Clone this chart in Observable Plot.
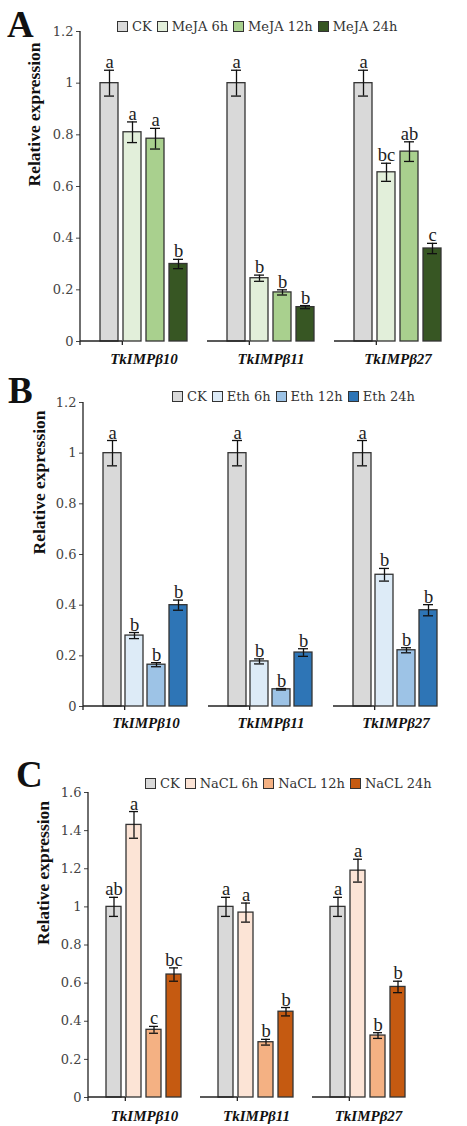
<!DOCTYPE html>
<html><head><meta charset="utf-8">
<script src="https://cdn.jsdelivr.net/npm/d3@7"></script>
<script src="https://cdn.jsdelivr.net/npm/@observablehq/plot@0.6"></script>
<style>
body{margin:0;background:#fff;}
#root{position:relative;width:467px;height:1126px;overflow:hidden;background:#fff;}
.panel{position:absolute;left:0;}
.letter{position:absolute;font-family:"Liberation Serif",serif;font-weight:bold;font-size:37px;line-height:1;color:#111;}
.legend{position:absolute;display:flex;align-items:center;height:14px;font-family:"DejaVu Serif",serif;font-size:13px;color:#333;white-space:nowrap;}
.legend .sw{width:9px;height:9px;border:1px solid #333;margin-right:4px;}
.legend .it{display:flex;align-items:center;margin-right:5px;}
</style></head>
<body><div id="root"></div>
<script>
const genes = ["TkIMPβ10", "TkIMPβ11", "TkIMPβ27"];

// Panel A: MeJA
const treatA = ["CK", "MeJA 6h", "MeJA 12h", "MeJA 24h"];
const colorsA = ["#d9d9d9", "#e2efda", "#a9d08e", "#375623"];
const meanA = [[1, 0.81, 0.785, 0.30], [1, 0.245, 0.19, 0.133], [1, 0.655, 0.735, 0.36]];
const errA = [[0.05, 0.04, 0.04, 0.018], [0.05, 0.012, 0.01, 0.006], [0.05, 0.035, 0.038, 0.02]];
const lettersA = [["a", "a", "a", "b"], ["a", "b", "b", "b"], ["a", "bc", "ab", "c"]];
const ticksA = [0, 0.2, 0.4, 0.6, 0.8, 1, 1.2];

// Panel B: Eth
const treatB = ["CK", "Eth 6h", "Eth 12h", "Eth 24h"];
const colorsB = ["#d9d9d9", "#ddebf7", "#9dc3e6", "#2e75b6"];
const meanB = [[1, 0.28, 0.165, 0.40], [1, 0.178, 0.068, 0.213], [1, 0.52, 0.222, 0.38]];
const errB = [[0.05, 0.012, 0.008, 0.02], [0.05, 0.01, 0.003, 0.015], [0.05, 0.025, 0.01, 0.022]];
const lettersB = [["a", "b", "b", "b"], ["a", "b", "b", "b"], ["a", "b", "b", "b"]];
const ticksB = [0, 0.2, 0.4, 0.6, 0.8, 1, 1.2];

// Panel C: NaCL
const treatC = ["CK", "NaCL 6h", "NaCL 12h", "NaCL 24h"];
const colorsC = ["#d9d9d9", "#fce4d6", "#f4b183", "#c55a11"];
const meanC = [[1, 1.43, 0.355, 0.645], [1, 0.97, 0.29, 0.45], [1, 1.19, 0.325, 0.58]];
const errC = [[0.05, 0.07, 0.018, 0.035], [0.05, 0.05, 0.015, 0.022], [0.05, 0.06, 0.015, 0.03]];
const lettersC = [["ab", "a", "c", "bc"], ["a", "a", "b", "b"], ["a", "a", "b", "b"]];
const ticksC = [0, 0.2, 0.4, 0.6, 0.8, 1, 1.2, 1.4, 1.6];

const root = document.getElementById("root");

// Axis lines: drawn once per facet (facet groups are translated by Plot)
function axisLines(nCat) {
  let calls = 0;
  return (index, scales, values, dims) => {
    const {width, height, marginLeft: ml, marginRight: mr, marginTop: mt, marginBottom: mb} = dims;
    const first = calls === 0;
    calls++;
    if (calls > nCat) return null;
    const g = d3.create("svg:g").attr("stroke", "#222").attr("stroke-width", 1.3);
    const y0 = height - mb;
    const step = (width - ml - mr) / nCat;
    g.append("line").attr("x1", ml).attr("x2", ml + step).attr("y1", y0).attr("y2", y0);
    g.append("line").attr("x1", ml + step).attr("x2", ml + step).attr("y1", y0).attr("y2", y0 + 4);
    if (first) g.append("line").attr("x1", ml).attr("x2", ml).attr("y1", mt).attr("y2", y0 + 4);
    return g.node();
  };
}

function panel(cfg) {
  const rows = [];
  genes.forEach((g, gi) => cfg.treat.forEach((t, ti) => rows.push({
    gene: g, treat: t, mean: cfg.mean[gi][ti], err: cfg.err[gi][ti], letter: cfg.letters[gi][ti]
  })));
  const fmt = d => String(+d.toFixed(1));
  const svg = Plot.plot({
    width: 467, height: cfg.height,
    marginTop: cfg.mt, marginBottom: cfg.mb, marginLeft: cfg.ml, marginRight: cfg.mr,
    style: {fontFamily: "Liberation Serif, serif", background: "transparent"},
    fx: {domain: genes, padding: 0, axis: null},
    x: {domain: cfg.treat, paddingInner: cfg.pi, paddingOuter: cfg.po, axis: null},
    y: {domain: [0, cfg.ymax], axis: null},
    color: {domain: cfg.treat, range: cfg.colors},
    marks: [
      Plot.barY(rows, {fx: "gene", x: "treat", y: "mean", fill: "treat", stroke: "#333", strokeWidth: 1.3}),
      Plot.ruleX(rows, {fx: "gene", x: "treat", y1: d => d.mean - d.err, y2: d => d.mean + d.err, stroke: "#111", strokeWidth: 1.3}),
      Plot.tickY(rows, {fx: "gene", x: "treat", y: d => d.mean + d.err, stroke: "#111", strokeWidth: 1.3, insetLeft: cfg.cap, insetRight: cfg.cap}),
      Plot.tickY(rows, {fx: "gene", x: "treat", y: d => d.mean - d.err, stroke: "#111", strokeWidth: 1.3, insetLeft: cfg.cap, insetRight: cfg.cap}),
      Plot.text(rows, {fx: "gene", x: "treat", y: d => d.mean + d.err, text: "letter", lineAnchor: "bottom", dy: -2, fontSize: 18.5, fontFamily: "Liberation Serif, serif", fill: "#222"}),
      Plot.axisY({ticks: cfg.ticks, tickFormat: fmt, tickSize: 4, tickPadding: 3, fontSize: 13, fontFamily: "DejaVu Serif, serif", color: "#444", label: null}),
      Plot.text(genes, {fx: d => d, text: d => d, frameAnchor: "bottom", lineAnchor: "middle", dy: cfg.labDy, fontSize: 15, fontWeight: "bold", fontStyle: "italic", fontFamily: "Liberation Serif, serif", fill: "#111"}),
      Plot.text(["Relative expression"], {fx: () => genes[0], text: d => d, frameAnchor: "left", rotate: -90, dx: cfg.ylabDx, fontSize: 17.5, fontWeight: "bold", fontFamily: "Liberation Serif, serif", fill: "#111"}),
      axisLines(genes.length)
    ]
  });
  svg.classList.add("panel");
  svg.style.top = cfg.top + "px";
  root.appendChild(svg);

  const L = document.createElement("div");
  L.className = "letter";
  L.textContent = cfg.letter;
  L.style.left = cfg.letterX + "px";
  L.style.top = cfg.letterY + "px";
  root.appendChild(L);

  const lg = document.createElement("div");
  lg.className = "legend";
  lg.style.left = cfg.legX + "px";
  lg.style.top = (cfg.legY - 7) + "px";
  cfg.treat.forEach((t, i) => {
    const it = document.createElement("div");
    it.className = "it";
    const sw = document.createElement("div");
    sw.className = "sw";
    sw.style.background = cfg.colors[i];
    const tx = document.createElement("span");
    tx.textContent = t;
    it.appendChild(sw); it.appendChild(tx);
    lg.appendChild(it);
  });
  root.appendChild(lg);
}

panel({treat: treatA, colors: colorsA, mean: meanA, err: errA, letters: lettersA, ticks: ticksA, ymax: 1.2,
  top: 0, height: 372, mt: 31, mb: 31, ml: 79, mr: 5, pi: 0.2, po: 0.8, cap: 4, labDy: 18, ylabDx: -46,
  letter: "A", letterX: 7, letterY: 6, legX: 117, legY: 26});
panel({treat: treatB, colors: colorsB, mean: meanB, err: errB, letters: lettersB, ticks: ticksB, ymax: 1.2,
  top: 372, height: 378, mt: 30, mb: 44, ml: 82, mr: 8, pi: 0.18, po: 0.83, cap: 4, labDy: 17, ylabDx: -44,
  letter: "B", letterX: 8, letterY: 372, legX: 172, legY: 396});
panel({treat: treatC, colors: colorsC, mean: meanC, err: errC, letters: lettersC, ticks: ticksC, ymax: 1.6,
  top: 750, height: 376, mt: 42, mb: 29, ml: 87, mr: 42, pi: 0.23, po: 0.85, cap: 3, labDy: 19, ylabDx: -45,
  letter: "C", letterX: 16, letterY: 756, legX: 145, legY: 783});
</script>
</body></html>
